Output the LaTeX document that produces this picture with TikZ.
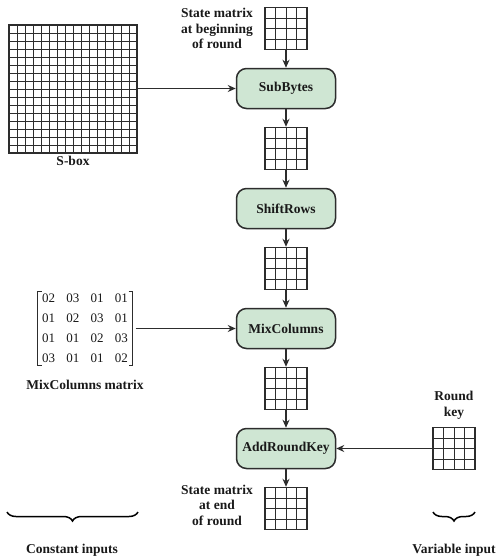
\documentclass[tikz,border=0pt]{standalone}
\usepackage{fontspec}
\setmainfont{Liberation Serif}
\usetikzlibrary{shapes.geometric, arrows, arrows.meta, positioning, decorations.pathreplacing}

\definecolor{stagegreen}{RGB}{207,230,211}
\definecolor{edgegray}{RGB}{45,45,45}

\tikzstyle{stage} = [rectangle, rounded corners=10pt,
minimum width=99pt,
minimum height=40pt,
text centered,
draw=edgegray,
line width=1.5pt,
fill=stagegreen]

\tikzstyle{state} = [rectangle,
minimum width=42pt,
minimum height=42pt,
inner sep=0pt,
draw=edgegray,
line width=1.4pt,
path picture={\draw[edgegray, line width=0.9pt, step=10.5pt] (-21pt,-21pt) grid (21pt,21pt);}]

\tikzstyle{sbox} = [rectangle,
minimum width=128pt,
minimum height=128pt,
inner sep=0pt,
draw=edgegray,
line width=1.4pt,
path picture={\draw[edgegray, line width=0.8pt, step=8pt] (-64pt,-64pt) grid (64pt,64pt);}]

\tikzstyle{arrow} = [line width=1.6pt, edgegray, -{Stealth[length=8pt, width=7pt]}]
\tikzstyle{brace} = [decorate, decoration={brace, amplitude=9pt}, line width=1.5pt]
\tikzstyle{bracket} = [line width=0.9pt, edgegray]

\begin{document}
\begin{tikzpicture}[x=1pt, y=1pt, node distance=60pt,
every node/.style={font=\fontsize{13.5}{15.5}\selectfont\bfseries, text=black!90}]
\useasboundingbox (0,0) rectangle (496,-558);

% Round steps
\node (init) [state] at (286,-28.5) {};
\node (subbytes) [stage, below of=init] {SubBytes};
\node (aftersub) [state, below of=subbytes] {};
\node (shiftrows) [stage, below of=aftersub] {ShiftRows};
\node (aftershift) [state, below of=shiftrows] {};
\node (mixcolumns) [stage, below of=aftershift] {MixColumns};
\node (aftermix) [state, below of=mixcolumns] {};
\node (addroundkey) [stage, below of=aftermix] {AddRoundKey};
\node (final) [state, below of=addroundkey] {};

% Inputs
\node (sbox) [sbox, left of=subbytes, xshift=-153pt, yshift=-0.5pt] {};
\node (mixmatrix) [left of=mixcolumns, xshift=-141pt, inner xsep=4.5pt, inner ysep=-3.5pt,
  font=\fontsize{13}{15.5}\selectfont\mdseries] {\renewcommand{\arraystretch}{1.29}\setlength{\tabcolsep}{5.6pt}%
  \begin{tabular}{@{}cccc@{}}
  02 & 03 & 01 & 01\\
  01 & 02 & 03 & 01\\
  01 & 01 & 02 & 03\\
  03 & 01 & 01 & 02
  \end{tabular}};
\node (roundkey) [state, right of=addroundkey, xshift=108pt] {};

% Labels
\node (initlabel) [left of=init, xshift=-9pt, align=center] {State matrix\\at beginning\\of round};
\node (finallabel) [left of=final, xshift=-9pt, yshift=3.5pt, align=center] {State matrix\\at end\\of round};
\node (sboxlabel) [below of=sbox, yshift=-12pt] {S-box};
\node (mixlabel) [below of=mixmatrix, yshift=4pt] {MixColumns matrix};
\node (keylabel) [above of=roundkey, yshift=-17pt, align=center] {Round\\key};
\node (constlabel) at (72,-550) {Constant inputs};
\node (varlabel) [below of=roundkey, yshift=-42pt] {Variable input};

\coordinate (constleft) at (7,-512);
\coordinate (constright) at (138,-512);
\coordinate (varleft) at (433,-512);
\coordinate (varright) at (475,-512);

% Matrix brackets
\draw [bracket] ([xshift=4pt]mixmatrix.north west) -| (mixmatrix.south west) -- ++(4pt,0);
\draw [bracket] ([xshift=-4pt]mixmatrix.north east) -| (mixmatrix.south east) -- ++(-4pt,0);

% Connections
\draw [arrow] (init) -- (subbytes);
\draw [arrow] (subbytes) -- (aftersub);
\draw [arrow] (aftersub) -- (shiftrows);
\draw [arrow] (shiftrows) -- (aftershift);
\draw [arrow] (aftershift) -- (mixcolumns);
\draw [arrow] (mixcolumns) -- (aftermix);
\draw [arrow] (aftermix) -- (addroundkey);
\draw [arrow] (addroundkey) -- (final);

\draw [arrow] (sbox.east |- subbytes) -- (subbytes);
\draw [arrow] ([xshift=3pt]mixmatrix.east |- mixcolumns) -- (mixcolumns);
\draw [arrow] (roundkey) -- (addroundkey);

\draw [brace] (constright) -- (constleft);
\draw [brace] (varright) -- (varleft);

\end{tikzpicture}
\end{document}
